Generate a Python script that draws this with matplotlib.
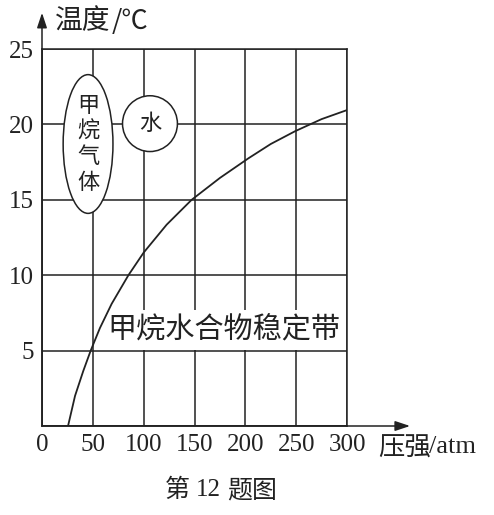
import matplotlib
matplotlib.use("Agg")
import matplotlib.pyplot as plt
from matplotlib.patches import Ellipse

# ---- data ----
pressure = [25.6, 32.5, 40.6, 47.9, 57, 68.5, 85, 100, 122.6, 147.2, 175, 203, 225, 249, 275, 300]
temperature = [0.0, 2.0, 3.65, 5.0, 6.5, 8.1, 10.0, 11.5, 13.35, 15.0, 16.45, 17.75, 18.7, 19.55, 20.35, 20.95]
x_ticks = [0, 50, 100, 150, 200, 250, 300]
y_ticks = [0, 5, 10, 15, 20, 25]
y_tick_labels = ["", "5", "10", "15", "20", "25"]
x_tick_labels = ["0", "50", "100", "150", "200", "250", "300"]

W, H = 494, 515
INK = "#222222"
CJK = ["Noto Sans CJK SC", "DejaVu Sans"]
SERIF = ["Liberation Serif", "DejaVu Serif"]

fig = plt.figure(figsize=(W / 100, H / 100), dpi=100)
ax = fig.add_axes([42 / W, 1 - 426 / H, (347 - 42) / W, (426 - 49) / H])

ax.set_xlim(0, 300)
ax.set_ylim(0, 25)
ax.set_xticks(x_ticks)
ax.set_yticks(y_ticks)
ax.set_xticklabels(x_tick_labels, fontfamily=SERIF, fontsize=18, color=INK)
ax.set_yticklabels(y_tick_labels, fontfamily=SERIF, fontsize=18, color=INK)
ax.tick_params(length=0, pad=6)
ax.set_axisbelow(True)
ax.grid(True, color=INK, lw=1.1)
for s in ax.spines.values():
    s.set_color(INK)
    s.set_linewidth(1.1)

# axis arrows
ax.annotate("", xy=(0, 27.4), xytext=(0, 0), annotation_clip=False,
            arrowprops=dict(arrowstyle="-|>,head_length=0.9,head_width=0.3",
                            color=INK, lw=1.1, shrinkA=0, shrinkB=0))
ax.annotate("", xy=(362, 0), xytext=(0, 0), annotation_clip=False,
            arrowprops=dict(arrowstyle="-|>,head_length=0.9,head_width=0.3",
                            color=INK, lw=1.1, shrinkA=0, shrinkB=0))

# curve
ax.plot(pressure, temperature, color=INK, lw=1.3, zorder=2,
        solid_joinstyle="round")

# methane gas ellipse
ax.add_patch(Ellipse((45.3, 18.7), 49, 9.2, facecolor="white", edgecolor=INK,
                     lw=1.1, zorder=1.6))
ax.text(45.3, 18.7, "甲\n烷\n气\n体", ha="center", va="center", fontsize=16,
        family=CJK, color=INK, linespacing=1.15, zorder=1.7)

# water circle
ax.add_patch(Ellipse((106.2, 20.05), 54, 3.7, facecolor="white", edgecolor=INK,
                     lw=1.1, zorder=1.6))
ax.text(106.2, 20.05, "水", ha="center", va="center", fontsize=16,
        family=CJK, color=INK, zorder=1.7)

# stability zone label
ax.text(179, 6.37, "甲烷水合物稳定带", ha="center", va="center", fontsize=21,
        family=CJK, color=INK, zorder=1.5,
        bbox=dict(boxstyle="square,pad=0.18", facecolor="white", edgecolor="none"))

# axis labels
def ftext(px, py, s, **kw):
    fig.text(px / W, 1 - py / H, s, **kw)

ftext(55, 21, "温度", ha="left", va="center", fontsize=20, family=CJK, color=INK)
ftext(112, 21, "/℃", ha="left", va="center", fontsize=19, family=CJK, color=INK)
ftext(378, 448, "压强", ha="left", va="center", fontsize=19, family=CJK, color=INK)
ftext(429, 447, "/atm", ha="left", va="center", fontsize=19, family=SERIF, color=INK)

ftext(165, 490, "第", ha="left", va="center", fontsize=18, family=CJK, color=INK)
ftext(196, 490, "12", ha="left", va="center", fontsize=18, family=SERIF, color=INK)
ftext(227, 490, "题图", ha="left", va="center", fontsize=18, family=CJK, color=INK)

fig.savefig("out.png", dpi=100, facecolor="white")
